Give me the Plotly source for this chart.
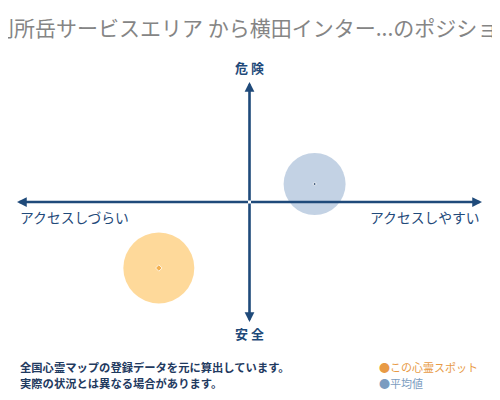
import plotly.graph_objects as go

# position map values (x: ease of access, y: danger)
labels = ["この心霊スポット", "平均値"]
x_vals = [-0.39, 0.28]
y_vals = [-0.55, 0.15]

title_text = "別所岳サービスエリア から横田インター...のポジションマップ"
axis_top = "危 険"
axis_bottom = "安 全"
axis_left = "アクセスしづらい"
axis_right = "アクセスしやすい"
note_lines = ["全国心霊マップの登録データを元に算出しています。", "実際の状況とは異なる場合があります。"]

navy = "#1f4a7a"
fill_colors = ["#fdc96f", "#aabfd9"]
dot_colors = ["#f0a030", "#1f3a5f"]
legend_colors = ["#e89a45", "#7b9cc0"]
font = "Noto Sans CJK JP"

fig = go.Figure()

# big circles
fig.add_trace(go.Scatter(
    x=x_vals, y=y_vals, mode="markers",
    marker=dict(size=[71, 62], color=fill_colors, line=dict(width=0)),
    hoverinfo="skip", showlegend=False
))
# centre dots
fig.add_trace(go.Scatter(
    x=x_vals, y=y_vals, mode="markers",
    marker=dict(size=[5, 3], color=dot_colors, symbol=["diamond", "circle"]),
    hoverinfo="skip", showlegend=False
))

# axis arrows from the centre out
for ex, ey in [(1, 0), (-1, 0), (0, 1), (0, -1)]:
    fig.add_annotation(
        x=ex, y=ey, ax=0, ay=0, xref="x", yref="y", axref="x", ayref="y",
        showarrow=True, arrowhead=2, arrowsize=0.75, arrowwidth=2.6,
        arrowcolor=navy, standoff=0, text=""
    )

lab_font = dict(family=font, size=13, color=navy)
side_font = dict(family=font, size=13.8, color=navy)
fig.add_annotation(x=0, y=1, xref="x", yref="y", yshift=15, text="<b>" + axis_top + "</b>",
                   showarrow=False, font=lab_font)
fig.add_annotation(x=0, y=-1, xref="x", yref="y", yshift=-11, text="<b>" + axis_bottom + "</b>",
                   showarrow=False, font=lab_font)
fig.add_annotation(x=-1, y=0, xref="x", yref="y", xanchor="left", yshift=-15, xshift=1,
                   text=axis_left, showarrow=False, font=side_font)
fig.add_annotation(x=1, y=0, xref="x", yref="y", xanchor="right", yshift=-15, xshift=0,
                   text=axis_right, showarrow=False, font=side_font)

# title (wider than the canvas, clipped on both sides)
fig.add_annotation(x=-0.056, y=1.229, xref="paper", yref="paper", xanchor="left", yanchor="middle",
                   text=title_text, showarrow=False,
                   font=dict(family=font, size=21, color="#858585"))

# footnote
for i, line in enumerate(note_lines):
    fig.add_annotation(x=0.002, y=-0.1875 - i * 0.067, xref="paper", yref="paper",
                       xanchor="left", yanchor="middle",
                       text="<b>" + line + "</b>", showarrow=False,
                       font=dict(family=font, size=11.3, color="#1f3a5f"))

# legend
for i, name in enumerate(labels):
    fig.add_annotation(
        x=0.774, y=-0.1875 - i * 0.067, xref="paper", yref="paper", xanchor="left", yanchor="middle",
        text=f"<span style='color:{legend_colors[i]}'>●</span>{name}", showarrow=False,
        font=dict(family=font, size=11, color=legend_colors[i])
    )

# page body adds an 8px margin, so the figure is 8px smaller
fig.update_layout(
    width=492, height=392,
    margin=dict(l=9, r=18, t=74, b=78),
    paper_bgcolor="white", plot_bgcolor="white",
    xaxis=dict(range=[-1, 1], visible=False, fixedrange=True),
    yaxis=dict(range=[-1, 1], visible=False, fixedrange=True),
)

fig.write_html("out.html")
